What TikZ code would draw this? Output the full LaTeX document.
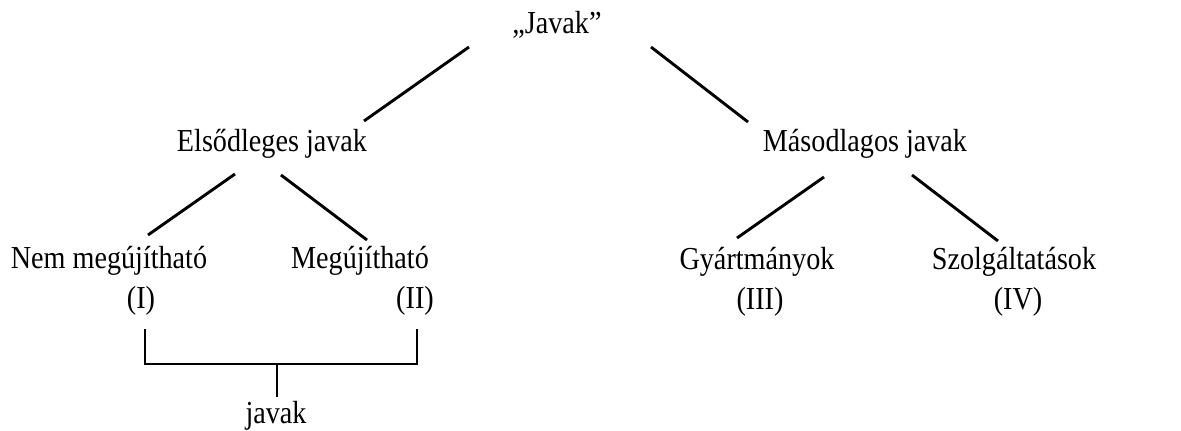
\documentclass[tikz,border=0pt]{standalone}
\usepackage{fontspec}
\setmainfont[FakeStretch=0.88]{Liberation Serif}
\usetikzlibrary{calc}
\tikzset{
  lbl/.style={anchor=base, inner sep=0pt, font=\fontsize{32}{38}\selectfont},
  conn/.style={line width=2.9pt, black}
}
\begin{document}
\begin{tikzpicture}[x=1pt,y=-1pt]
\useasboundingbox (0,0) rectangle (1181,431);
\node[lbl] (top) at (557,34) {„Javak”};
\node[lbl] (els) at (272,151) {Elsődleges javak};
\node[lbl] (mas) at (865,151) {Másodlagos javak};
\node[lbl] (nem) at (109,268) {Nem megújítható};
\node[lbl] (nemn) at (141,308) {(I)};
\node[lbl] (meg) at (360,268) {Megújítható};
\node[lbl] (megn) at (415,308) {(II)};
\node[lbl] (gy) at (757,269) {Gyártmányok};
\node[lbl] (gyn) at (760,309) {(III)};
\node[lbl] (sz) at (1014,269) {Szolgáltatások};
\node[lbl] (szn) at (1018,309) {(IV)};
\node[lbl] (jav) at (276,423) {javak};

\draw[conn] ($(top.base)+(-88,13)$) -- ($(els.base)+(92,-30)$);
\draw[conn] ($(top.base)+(94,13)$) -- ($(mas.base)+(-117,-29)$);
\draw[conn] ($(els.base)+(-37,23)$) -- ($(nem.base)+(39,-33)$);
\draw[conn] ($(els.base)+(9,24)$) -- ($(meg.base)+(7,-28)$);
\draw[conn] ($(mas.base)+(-41,26)$) -- ($(gy.base)+(-20,-31)$);
\draw[conn] ($(mas.base)+(47,24)$) -- ($(sz.base)+(-16,-28)$);

\coordinate (bl) at ($(nemn.base)+(4,21)$);
\coordinate (br) at ($(megn.base)+(2,21)$);
\coordinate (stemtop) at ($(jav.base)+(1,-59)$);
\draw[conn, line join=miter] (bl) -- (bl |- stemtop) -- (br |- stemtop) -- (br);
\draw[conn] (stemtop) -- ($(jav.base)+(1,-26)$);
\end{tikzpicture}
\end{document}
